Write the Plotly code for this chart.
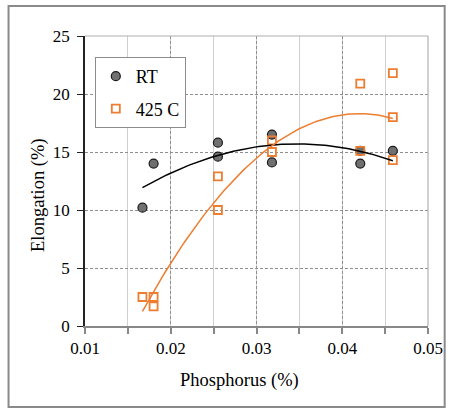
import numpy as np
import plotly.graph_objects as go

# Data
rt_x = [0.0167, 0.0180, 0.0255, 0.0255, 0.0318, 0.0318, 0.0421, 0.0421, 0.0459]
rt_y = [10.2, 14.0, 15.8, 14.6, 16.5, 14.1, 15.1, 14.0, 15.1]
hot_x = [0.0167, 0.0180, 0.0180, 0.0255, 0.0255, 0.0318, 0.0318, 0.0421, 0.0421, 0.0459, 0.0459, 0.0459]
hot_y = [2.5, 2.5, 1.7, 12.9, 10.0, 16.0, 15.0, 20.9, 15.1, 21.8, 18.0, 14.3]
x_ticks = [0.01, 0.02, 0.03, 0.04, 0.05]
x_labels = ["0.01", "0.02", "0.03", "0.04", "0.05"]
y_ticks = [0, 5, 10, 15, 20, 25]

SERIF = "Liberation Serif"
ORANGE = "#ED7D31"


def quad_fit(xs, ys):
    c = np.polyfit(xs, ys, 2)
    xx = np.linspace(min(xs), max(xs), 100)
    return xx, np.polyval(c, xx)


fig = go.Figure()
fig.add_trace(go.Scatter(
    x=rt_x, y=rt_y, mode="markers", name="RT", legendgroup="a",
    marker=dict(symbol="circle", size=9, color="#707070", line=dict(color="#1a1a1a", width=1.2)),
))
fig.add_trace(go.Scatter(
    x=hot_x, y=hot_y, mode="markers", name="425 C", legendgroup="b",
    marker=dict(symbol="square-open", size=8, color=ORANGE, line=dict(color=ORANGE, width=1.8)),
))
fx, fy = quad_fit(rt_x, rt_y)
fig.add_trace(go.Scatter(x=fx, y=fy, mode="lines", showlegend=False,
                         line=dict(color="black", width=1.5)))
fx, fy = quad_fit(hot_x, hot_y)
fig.add_trace(go.Scatter(x=fx, y=fy, mode="lines", showlegend=False,
                         line=dict(color=ORANGE, width=1.5)))

fig.update_layout(
    width=455, height=410,
    margin=dict(l=85, r=20, t=36, b=84),
    paper_bgcolor="white", plot_bgcolor="white",
    font=dict(family=SERIF, size=17, color="black"),
    showlegend=True,
    legend=dict(x=0.0286, y=0.9276, xanchor="left", yanchor="top",
                bgcolor="white", bordercolor="#8c8c8c", borderwidth=1,
                font=dict(family=SERIF, size=18), itemwidth=30, tracegroupgap=6),
    xaxis=dict(range=[0.01, 0.05], tickvals=x_ticks, ticktext=x_labels,
               ticks="outside", ticklen=6, tickcolor="#888", tickwidth=1.5,
               showline=True, linecolor="#888", linewidth=2,
               showgrid=True, gridcolor="#8f8f8f", griddash="3px,2px", gridwidth=1,
               minor=dict(dtick=0.005, ticks="outside", ticklen=6, tickcolor="#888",
                          showgrid=True, gridcolor="#d0d0d0", griddash="solid"),
               zeroline=False, tickfont=dict(family=SERIF, size=17)),
    yaxis=dict(range=[0, 25], tickvals=y_ticks,
               ticks="outside", ticklen=6, tickcolor="#222", tickwidth=1.2,
               showline=True, linecolor="#222", linewidth=1.5,
               showgrid=True, gridcolor="#8f8f8f", griddash="3px,2px", gridwidth=1,
               zeroline=False, tickfont=dict(family=SERIF, size=17), ticklabelstandoff=4),
    shapes=[
        dict(type="line", xref="paper", yref="paper", x0=0, x1=1, y0=1, y1=1,
             line=dict(color="#b0b0b0", width=1.2)),
        dict(type="line", xref="paper", yref="paper", x0=1, x1=1, y0=0, y1=1,
             line=dict(color="#b0b0b0", width=1.2)),
        dict(type="rect", xref="paper", yref="paper", x0=-0.2229, x1=1.0486,
             y0=-0.2793, y1=1.1034, line=dict(color="#8a8a8a", width=2), layer="below"),
    ],
    annotations=[
        dict(text="Phosphorus (%)", xref="paper", yref="paper", x=(243 - 85) / 350,
             y=(326 - 380) / 290, showarrow=False, font=dict(family=SERIF, size=18.5),
             xanchor="center", yanchor="middle"),
        dict(text="Elongation (%)", xref="paper", yref="paper", x=(37 - 85) / 350,
             y=(326 - 195) / 290, showarrow=False, textangle=-90,
             font=dict(family=SERIF, size=18.5), xanchor="center", yanchor="middle"),
    ],
)

fig.write_html("out.html", config={"displayModeBar": False},
               post_script="document.body.style.margin='0';document.body.style.overflow='hidden';")
